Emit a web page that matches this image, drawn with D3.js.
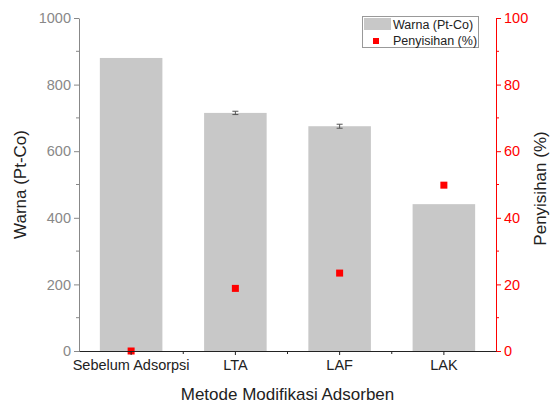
<!DOCTYPE html>
<html>
<head>
<meta charset="utf-8">
<script src="https://cdn.jsdelivr.net/npm/d3@7"></script>
<style>
body{margin:0;background:#fff;}
svg{font-family:Arial,"Liberation Sans",sans-serif;}
</style>
</head>
<body>
<div id="chart"></div>
<script>
var categories = ['Sebelum Adsorpsi','LTA','LAF','LAK'];
var warna = [880, 715, 675, 441];
var warnaErr = [0, 5, 6, 0];
var penyisihan = [0, 18.8, 23.4, 49.8];
var leftTicks = [0,200,400,600,800,1000];
var rightTicks = [0,20,40,60,80,100];

var width = 552, height = 405;
var plotL = 79, plotR = 496, plotT = 18, plotB = 351;

var svg = d3.select('#chart').append('svg')
	.attr('width', width)
	.attr('height', height);

var x = d3.scaleBand().domain(categories).range([plotL, plotR]).padding(0);
var y = d3.scaleLinear().domain([0, 1000]).range([plotB, plotT]);
var y2 = d3.scaleLinear().domain([0, 100]).range([plotB, plotT]);

// bars
svg.append('g').selectAll('rect')
	.data(categories)
	.enter()
	.append('rect')
	.attr('x', function(d){ return x(d) + x.bandwidth()*0.2; })
	.attr('width', x.bandwidth()*0.6)
	.attr('y', function(d,i){ return y(warna[i]); })
	.attr('height', function(d,i){ return plotB - y(warna[i]); })
	.style('fill', '#c8c8c8');

// error bars
var eb = svg.append('g').attr('stroke', '#555').attr('stroke-width', 1);
categories.forEach(function(c, i){
	if (!warnaErr[i]) return;
	var cx = x(c) + x.bandwidth()/2;
	var y0 = y(warna[i] - warnaErr[i]), y1 = y(warna[i] + warnaErr[i]);
	eb.append('line').attr('x1', cx).attr('x2', cx).attr('y1', y0).attr('y2', y1);
	eb.append('line').attr('x1', cx-3).attr('x2', cx+3).attr('y1', y0).attr('y2', y0);
	eb.append('line').attr('x1', cx-3).attr('x2', cx+3).attr('y1', y1).attr('y2', y1);
});

// scatter
svg.append('g').selectAll('rect')
	.data(categories)
	.enter()
	.append('rect')
	.attr('x', function(d){ return x(d) + x.bandwidth()/2 - 3.5; })
	.attr('y', function(d,i){ return y2(penyisihan[i]) - 3.5; })
	.attr('width', 7).attr('height', 7)
	.style('fill', '#ff0000');

// left axis
var gl = svg.append('g').attr('transform', 'translate(' + plotL + ',0)')
	.call(d3.axisLeft(y).tickValues(leftTicks).tickFormat(d3.format('d')).tickSize(5).tickSizeOuter(0).tickPadding(3));
gl.selectAll('path,line').attr('stroke', '#888');
gl.selectAll('text').attr('fill', '#888').attr('font-size', 14.5);
gl.append('g').selectAll('line')
	.data([100,300,500,700,900])
	.enter().append('line')
	.attr('x1', -3).attr('x2', 0)
	.attr('y1', function(d){ return y(d); }).attr('y2', function(d){ return y(d); })
	.attr('stroke', '#888');

// right axis
var gr = svg.append('g').attr('transform', 'translate(' + plotR + ',0)')
	.call(d3.axisRight(y2).tickValues(rightTicks).tickSize(5).tickSizeOuter(0).tickPadding(3));
gr.selectAll('path,line').attr('stroke', '#ff0000');
gr.selectAll('text').attr('fill', '#ff0000').attr('font-size', 14.5);
gr.append('g').selectAll('line')
	.data([10,30,50,70,90])
	.enter().append('line')
	.attr('x1', 0).attr('x2', 3)
	.attr('y1', function(d){ return y2(d); }).attr('y2', function(d){ return y2(d); })
	.attr('stroke', '#ff0000');

// bottom axis
var gb = svg.append('g').attr('transform', 'translate(0,' + plotB + ')')
	.call(d3.axisBottom(x).tickSize(4).tickSizeOuter(0).tickPadding(5));
gb.selectAll('path,line').attr('stroke', '#222');
gb.selectAll('text').attr('fill', '#222').attr('font-size', 14.5);
gb.append('g').selectAll('line')
	.data(categories.slice(1))
	.enter().append('line')
	.attr('x1', function(d){ return x(d); }).attr('x2', function(d){ return x(d); })
	.attr('y1', 0).attr('y2', 3)
	.attr('stroke', '#222');

// titles
svg.append('text')
	.attr('transform', 'translate(26,' + ((plotT+plotB)/2) + ') rotate(-90)')
	.attr('text-anchor', 'middle')
	.attr('font-size', 17)
	.attr('fill', '#222')
	.text('Warna (Pt-Co)');
svg.append('text')
	.attr('transform', 'translate(546,' + ((plotT+plotB)/2 + 4) + ') rotate(-90)')
	.attr('text-anchor', 'middle')
	.attr('font-size', 17)
	.attr('fill', '#222')
	.text('Penyisihan (%)');
svg.append('text')
	.attr('x', (plotL+plotR)/2)
	.attr('y', 400)
	.attr('text-anchor', 'middle')
	.attr('font-size', 17)
	.attr('fill', '#222')
	.text('Metode Modifikasi Adsorben');

// legend
var lg = svg.append('g');
lg.append('rect')
	.attr('x', 362.5).attr('y', 16.5).attr('width', 116).attr('height', 31)
	.style('fill', '#fff').style('stroke', '#999');
lg.append('rect')
	.attr('x', 364).attr('y', 18).attr('width', 27).attr('height', 12)
	.style('fill', '#c8c8c8');
lg.append('rect')
	.attr('x', 373).attr('y', 38).attr('width', 6).attr('height', 6)
	.style('fill', '#ff0000');
lg.append('text').attr('x', 393).attr('y', 28.5).attr('font-size', 12.5).attr('fill', '#222').text('Warna (Pt-Co)');
lg.append('text').attr('x', 393).attr('y', 44.5).attr('font-size', 12.5).attr('fill', '#222').text('Penyisihan (%)');
</script>
</body>
</html>
